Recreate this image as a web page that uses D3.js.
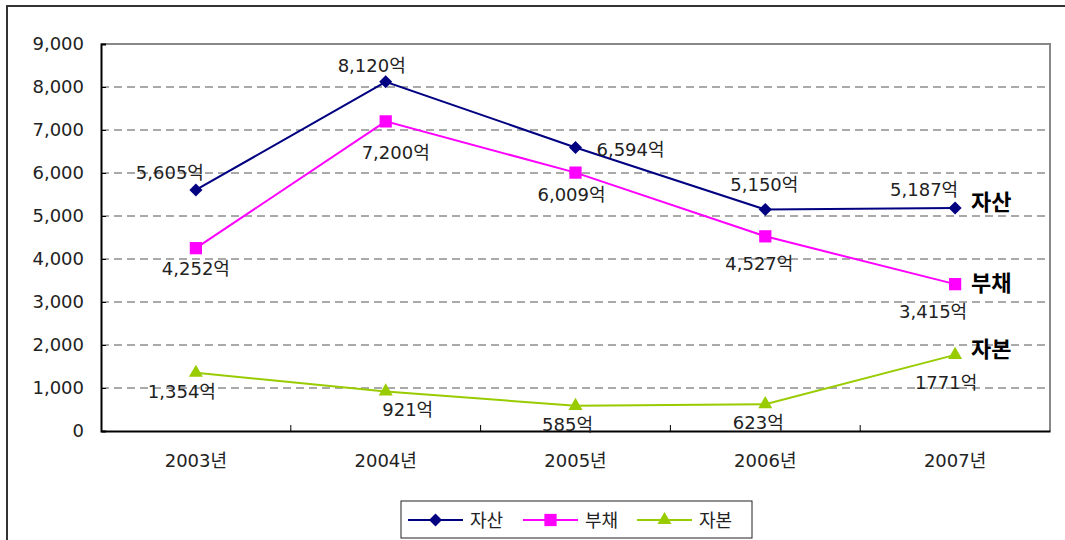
<!DOCTYPE html>
<html><head><meta charset="utf-8">
<script src="https://cdn.jsdelivr.net/npm/d3@7"></script>
<style>
body{margin:0;background:#fff;}
text{font-family:"DejaVu Sans","Noto Sans CJK KR",sans-serif;}
</style></head>
<body><svg id="c" width="1065" height="540"></svg>
<script>
const categories = ["2003년","2004년","2005년","2006년","2007년"];
const seriesNames = ["자산","부채","자본"];
const assets = [5605, 8120, 6594, 5150, 5187];
const liabilities = [4252, 7200, 6009, 4527, 3415];
const equity = [1354, 921, 585, 623, 1771];
const assetLabels = ["5,605억","8,120억","6,594억","5,150억","5,187억"];
const liabilityLabels = ["4,252억","7,200억","6,009억","4,527억","3,415억"];
const equityLabels = ["1,354억","921억","585억","623억","1771억"];
const yTicks = [0,1000,2000,3000,4000,5000,6000,7000,8000,9000];

const colors = ["#000080","#FF00FF","#99CC00"];
const symbols = [d3.symbolSquare, d3.symbolSquare, d3.symbolTriangle];
const symSizes = [85, 150, 85];
const symRot = [45, 0, 0];
// label offsets (dx, dy) relative to the point
const labelOffsets = [
  [[-26,-17],[-14,-16],[55,2],[-1,-25],[-31,-18]],
  [[0,20],[10,31],[-4,22],[-6,27],[-22,27]],
  [[-14,19],[22,18],[-8,19],[-7,18],[-9,28]]
];

const svg = d3.select("#c");
const L=101, R=1050, T=44, B=431;
const x = d3.scaleBand().domain(categories).range([L,R]);
const y = d3.scaleLinear().domain([0,9000]).range([B,T]);

// outer frame
svg.append("rect").attr("x",7).attr("y",6).attr("width",1080).attr("height",560)
  .attr("fill","none").attr("stroke","#333").attr("stroke-width",2);

// plot frame (top/right gray)
svg.append("path").attr("d",`M${L},${T}H${R}V${B}`).attr("fill","none").attr("stroke","#888").attr("stroke-width",2);

// grid
svg.append("g").selectAll("line").data(yTicks.filter(v=>v>0 && v<9000)).join("line")
  .attr("x1",L).attr("x2",R).attr("y1",d=>y(d)).attr("y2",d=>y(d))
  .attr("stroke","#555").attr("stroke-width",1).attr("stroke-dasharray","8,5");

// y axis
const yAxis = d3.axisLeft(y).tickValues(yTicks).tickSize(-5).tickPadding(17).tickFormat(d3.format(","));
const gy = svg.append("g").attr("transform",`translate(${L},0)`).call(yAxis);
gy.select(".domain").attr("stroke","#000").attr("stroke-width",2);
gy.selectAll(".tick line").attr("stroke","#000");
gy.selectAll("text").attr("font-size",18).attr("fill","#222").attr("font-family",'"DejaVu Sans","Noto Sans CJK KR",sans-serif');

// x axis
const xAxis = d3.axisBottom(x).tickSize(0).tickPadding(23);
const gx = svg.append("g").attr("transform",`translate(0,${B})`).call(xAxis);
gx.select(".domain").attr("stroke","#000").attr("stroke-width",2);
gx.selectAll("text").attr("font-size",18).attr("fill","#222").attr("font-family",'"DejaVu Sans","Noto Sans CJK KR",sans-serif');
// category boundary ticks (inside)
svg.append("g").selectAll("line").data(categories.slice(1)).join("line")
  .attr("x1",d=>x(d)).attr("x2",d=>x(d)).attr("y1",B).attr("y2",B-6)
  .attr("stroke","#000").attr("stroke-width",1);

const allSeries = [assets, liabilities, equity];
const allLabels = [assetLabels, liabilityLabels, equityLabels];
const cx = c => x(c) + x.bandwidth()/2;
const line = d3.line().x((d,i)=>cx(categories[i])).y(d=>y(d));

allSeries.forEach((vals,s)=>{
  svg.append("path").datum(vals).attr("d",line).attr("fill","none")
    .attr("stroke",colors[s]).attr("stroke-width",2);
});
allSeries.forEach((vals,s)=>{
  svg.append("g").selectAll("path").data(vals).join("path")
    .attr("d",d3.symbol().type(symbols[s]).size(symSizes[s]))
    .attr("transform",(d,i)=>`translate(${cx(categories[i])},${y(d)}) rotate(${symRot[s]})`)
    .attr("fill",colors[s]);
});
allSeries.forEach((vals,s)=>{
  svg.append("g").selectAll("text").data(vals).join("text")
    .attr("x",(d,i)=>cx(categories[i])+labelOffsets[s][i][0])
    .attr("y",(d,i)=>y(d)+labelOffsets[s][i][1])
    .attr("text-anchor","middle").attr("dominant-baseline","central")
    .attr("font-size",18).attr("fill","#222")
    .text((d,i)=>allLabels[s][i]);
});
// series name labels near last point
allSeries.forEach((vals,s)=>{
  const last = vals.length-1;
  svg.append("text").attr("x",cx(categories[last])+16).attr("y",y(vals[last])+[-5,-1,-5][s])
    .attr("dominant-baseline","central").attr("font-size",22).attr("font-weight","bold")
    .attr("fill","#000").text(seriesNames[s]);
});

// legend
const lg = svg.append("g");
lg.append("rect").attr("x",401).attr("y",501).attr("width",351).attr("height",37)
  .attr("fill","#fff").attr("stroke","#222").attr("stroke-width",1);
const legX = [408, 523, 637];
seriesNames.forEach((n,s)=>{
  const g = lg.append("g").attr("transform",`translate(${legX[s]},520)`);
  g.append("line").attr("x1",0).attr("x2",55).attr("stroke",colors[s]).attr("stroke-width",2);
  g.append("path").attr("d",d3.symbol().type(symbols[s]).size(symSizes[s])()).attr("transform",`translate(27.5,0) rotate(${symRot[s]})`).attr("fill",colors[s]);
  g.append("text").attr("x",62).attr("y",0).attr("dominant-baseline","central").attr("font-size",18).attr("fill","#222").text(n);
});
</script></body></html>
